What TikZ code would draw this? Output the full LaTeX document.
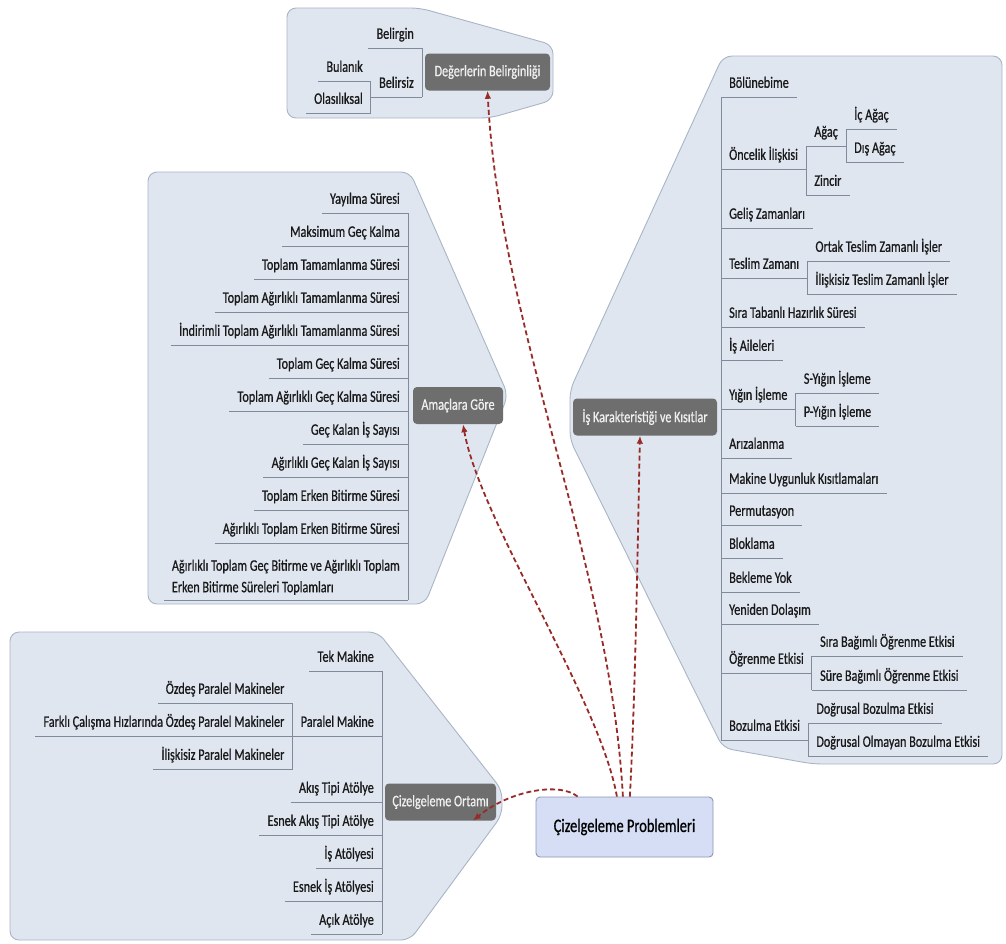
\documentclass[tikz,border=0pt]{standalone}
\usepackage{fontspec}
\setmainfont[FakeStretch=0.76, FakeBold=0.7]{Carlito}
\usetikzlibrary{arrows.meta}

\definecolor{panelfill}{HTML}{DFE6F0}
\definecolor{paneldraw}{HTML}{A9B5C5}
\definecolor{topicfill}{HTML}{6E6E6E}
\definecolor{leafline}{HTML}{7F8B9A}
\definecolor{linkred}{HTML}{992B27}
\definecolor{rootfill}{HTML}{D5DEF4}
\definecolor{rootdraw}{HTML}{8A96B0}

\tikzset{
  panel/.style={fill=panelfill, draw=paneldraw, line width=0.9pt, rounded corners=9pt},
  topic/.style={fill=topicfill, text=white!94!black, rounded corners=4pt, minimum height=37pt, inner xsep=7pt},
  root/.style={fill=rootfill, draw=rootdraw, line width=0.9pt, rounded corners=4pt,
    minimum width=177pt, minimum height=60pt, font=\fontsize{19}{22}\selectfont},
  uline/.style={draw=leafline, line width=1pt},
  leaf/.style={text=black!90, inner xsep=8pt, inner ysep=5pt, text height=12pt, text depth=4pt,
    append after command={(\tikzlastnode.south west) edge[uline] (\tikzlastnode.south east)}},
  lleaf/.style={leaf, anchor=south east},
  rleaf/.style={leaf, anchor=south west},
  link/.style={draw=linkred, line width=1.8pt, dash pattern=on 5pt off 3pt,
    -{Latex[length=8pt,width=6.5pt]}},
}

\begin{document}
\begin{tikzpicture}[x=1pt, y=-1pt, font=\fontsize{16}{19}\selectfont]
\useasboundingbox (0,0) rectangle (1006,943);

% panels
\draw[panel] (287,8) -- (420,8) -- (553,45) -- (553,100) -- (490,118) -- (287,118) -- cycle;
\draw[panel] (148,172) -- (410,172) -- (508,395) -- (425,604) -- (148,604) -- cycle;
\draw[panel] (10,632) -- (378,632) -- (502,790) -- (502,815) -- (410,940) -- (10,940) -- cycle;
\draw[panel] (723,56) -- (1002,56) -- (1002,764) -- (813,764) -- (723,748) -- (570,440) -- (570,390) -- cycle;

% main topics
\node[root] (cp) at (624.5,827) {Çizelgeleme Problemleri};
\node[topic, minimum width=125pt] (deg) at (487.5,72) {Değerlerin Belirginliği};
\node[topic, minimum width=90pt] (am) at (458,405.5) {Amaçlara Göre};
\node[topic, minimum width=111pt] (co) at (440.5,802) {Çizelgeleme Ortamı};
\node[topic, minimum width=144pt] (ik) at (645,417) {İş Karakteristiği ve Kısıtlar};

% Değerlerin Belirginliği
\node[lleaf] (d1) at (422,48) {Belirgin};
\node[lleaf] (d2) at (422,97) {Belirsiz};
\node[lleaf] (d21) at (d2.south west |- 0,81) {Bulanık};
\node[lleaf] (d22) at (d2.south west |- 0,113) {Olasılıksal};
\draw[uline] (d1.south east) -- (d2.south east);
\draw[uline] (d21.south east) -- (d22.south east);

% Amaçlara Göre
\node[lleaf] (a1) at (408,213) {Yayılma Süresi};
\node[lleaf] (a2) at (408,246) {Maksimum Geç Kalma};
\node[lleaf] (a3) at (408,279) {Toplam Tamamlanma Süresi};
\node[lleaf] (a4) at (408,312) {Toplam Ağırlıklı Tamamlanma Süresi};
\node[lleaf] (a5) at (408,345) {İndirimli Toplam Ağırlıklı Tamamlanma Süresi};
\node[lleaf] (a6) at (408,378) {Toplam Geç Kalma Süresi};
\node[lleaf] (a7) at (408,411) {Toplam Ağırlıklı Geç Kalma Süresi};
\node[lleaf] (a8) at (408,444) {Geç Kalan İş Sayısı};
\node[lleaf] (a9) at (408,477) {Ağırlıklı Geç Kalan İş Sayısı};
\node[lleaf] (a10) at (408,510) {Toplam Erken Bitirme Süresi};
\node[lleaf] (a11) at (408,543) {Ağırlıklı Toplam Erken Bitirme Süresi};
\node[lleaf, align=left, text height=, text depth=, font=\fontsize{16}{21.5}\selectfont] (a12) at (408,600)
  {Ağırlıklı Toplam Geç Bitirme ve Ağırlıklı Toplam\\Erken Bitirme Süreleri Toplamları};
\draw[uline] (a1.south east) -- (a12.south east);

% Çizelgeleme Ortamı
\node[lleaf] (o1) at (382,671) {Tek Makine};
\node[lleaf] (o2) at (382,736) {Paralel Makine};
\node[lleaf] (o21) at (o2.south west |- 0,703) {Özdeş Paralel Makineler};
\node[lleaf] (o22) at (o2.south west) {Farklı Çalışma Hızlarında Özdeş Paralel Makineler};
\node[lleaf] (o23) at (o2.south west |- 0,769) {İlişkisiz Paralel Makineler};
\node[lleaf] (o3) at (382,802) {Akış Tipi Atölye};
\node[lleaf] (o4) at (382,835) {Esnek Akış Tipi Atölye};
\node[lleaf] (o5) at (382,868) {İş Atölyesi};
\node[lleaf] (o6) at (382,901) {Esnek İş Atölyesi};
\node[lleaf] (o7) at (382,934) {Açık Atölye};
\draw[uline] (o1.south east) -- (o7.south east);
\draw[uline] (o21.south east) -- (o23.south east);

% İş Karakteristiği ve Kısıtlar
\node[rleaf] (k1) at (721,97) {Bölünebime};
\node[rleaf] (k2) at (721,169) {Öncelik İlişkisi};
\node[rleaf] (k21) at (k2.south east |- 0,146) {Ağaç};
\node[rleaf] (k211) at (k21.south east |- 0,129) {İç Ağaç};
\node[rleaf] (k212) at (k21.south east |- 0,162) {Dış Ağaç};
\node[rleaf] (k22) at (k2.south east |- 0,195) {Zincir};
\node[rleaf] (k3) at (721,228) {Geliş Zamanları};
\node[rleaf] (k4) at (721,278) {Teslim Zamanı};
\node[rleaf] (k41) at (k4.south east |- 0,261) {Ortak Teslim Zamanlı İşler};
\node[rleaf] (k42) at (k4.south east |- 0,294) {İlişkisiz Teslim Zamanlı İşler};
\node[rleaf] (k5) at (721,327) {Sıra Tabanlı Hazırlık Süresi};
\node[rleaf] (k6) at (721,360) {İş Aileleri};
\node[rleaf] (k7) at (721,409) {Yığın İşleme};
\node[rleaf] (k71) at (k7.south east |- 0,393) {S-Yığın İşleme};
\node[rleaf] (k72) at (k7.south east |- 0,426) {P-Yığın İşleme};
\node[rleaf] (k8) at (721,458) {Arızalanma};
\node[rleaf] (k9) at (721,493) {Makine Uygunluk Kısıtlamaları};
\node[rleaf] (k10) at (721,525) {Permutasyon};
\node[rleaf] (k11) at (721,558) {Bloklama};
\node[rleaf] (k12) at (721,592) {Bekleme Yok};
\node[rleaf] (k13) at (721,624) {Yeniden Dolaşım};
\node[rleaf] (k14) at (721,673) {Öğrenme Etkisi};
\node[rleaf] (k141) at (k14.south east |- 0,656) {Sıra Bağımlı Öğrenme Etkisi};
\node[rleaf] (k142) at (k14.south east |- 0,690) {Süre Bağımlı Öğrenme Etkisi};
\node[rleaf] (k15) at (721,740) {Bozulma Etkisi};
\node[rleaf] (k151) at (k15.south east |- 0,723) {Doğrusal Bozulma Etkisi};
\node[rleaf] (k152) at (k15.south east |- 0,756) {Doğrusal Olmayan Bozulma Etkisi};
\draw[uline] (k1.south west) -- (k15.south west);
\draw[uline] (k21.south west) -- (k22.south west);
\draw[uline] (k211.south west) -- (k212.south west);
\draw[uline] (k41.south west) -- (k42.south west);
\draw[uline] (k71.south west) -- (k72.south west);
\draw[uline] (k141.south west) -- (k142.south west);
\draw[uline] (k151.south west) -- (k152.south west);

% links
\draw[link] (cp.93) .. controls (610,560) and (500,330) .. (deg.south);
\draw[link] (cp.104) .. controls (600,700) and (480,520) .. (am.-75);
\draw[link] (cp.80) .. controls (636,680) and (638,520) .. (ik.-105);
\draw[link] (cp.147) .. controls (560,782) and (510,790) .. (co.-30);

\end{tikzpicture}
\end{document}
